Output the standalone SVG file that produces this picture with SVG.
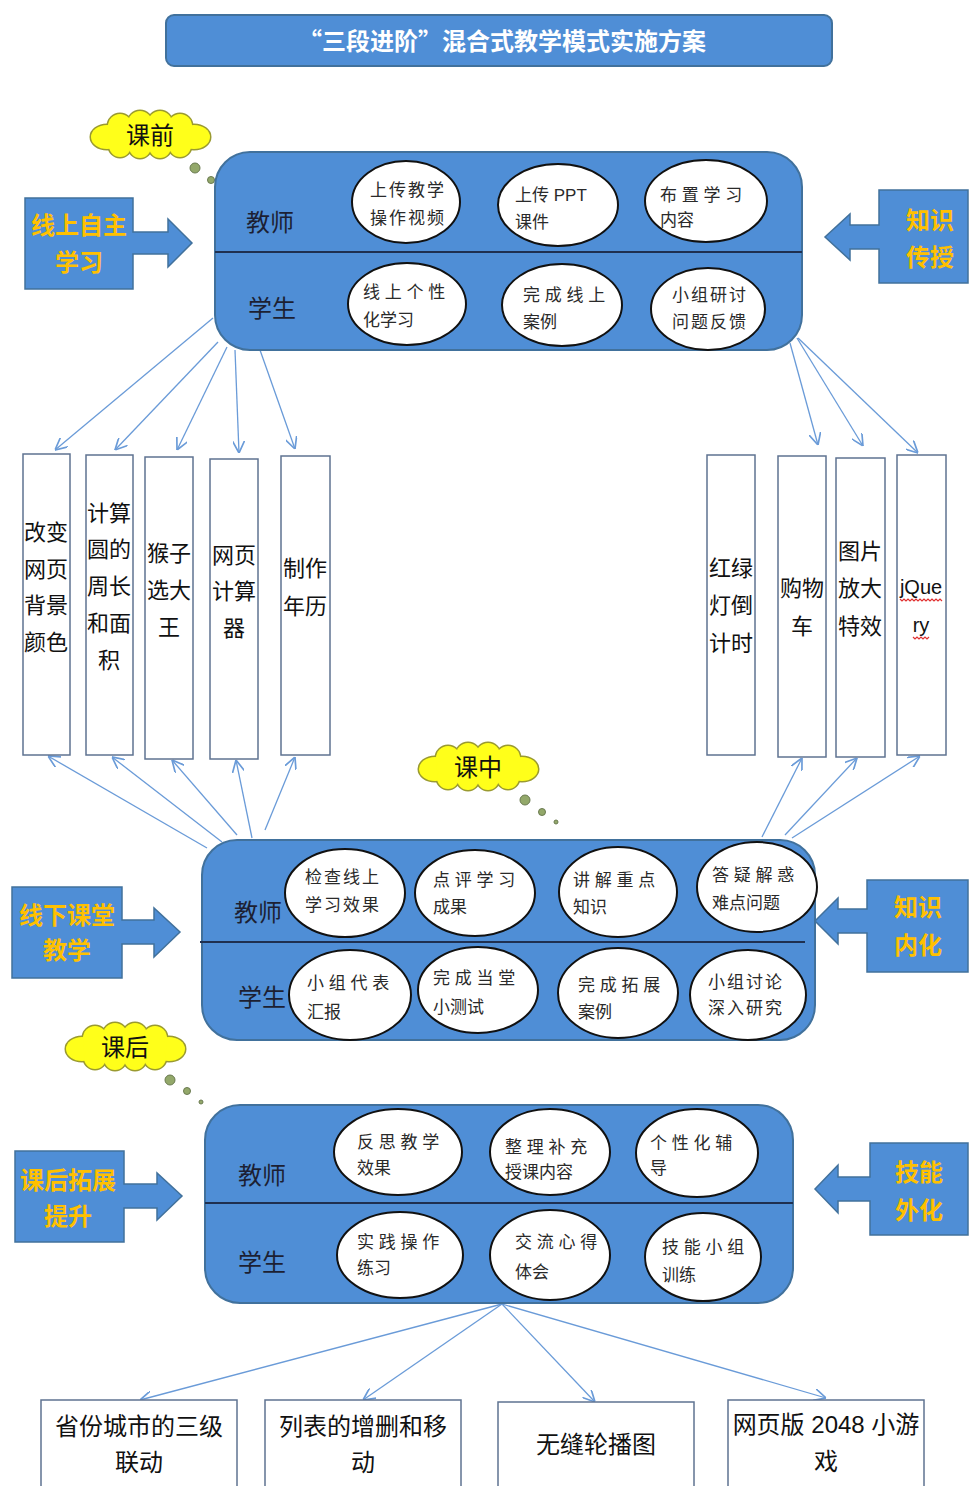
<svg xmlns="http://www.w3.org/2000/svg" xmlns:xlink="http://www.w3.org/1999/xlink" width="969" height="1486" viewBox="0 0 969 1486">
<style>
text{font-family:"Liberation Sans","Noto Sans CJK SC",sans-serif;}
.panel{fill:#4f8ed6;stroke:#41719c;stroke-width:2;}
.div{stroke:#1f3050;stroke-width:2;}
.call{fill:#4f8ed6;stroke:#41719c;stroke-width:1.5;}
.ct{fill:#ffc000;font-size:24px;font-weight:bold;text-anchor:middle;}
.role{fill:#1c1f33;font-size:24px;text-anchor:middle;}
.ell{fill:#ffffff;stroke:#111;stroke-width:2;}
.et{fill:#2a2a2a;font-size:17px;letter-spacing:2px;}
.sp{letter-spacing:0px;}
.vb{fill:#ffffff;stroke:#5f7391;stroke-width:1.5;}
.vt{fill:#111;font-size:22px;text-anchor:middle;}
.bt{fill:#111;font-size:24px;text-anchor:middle;}
.cs{fill:#ffff1a;stroke:#9a9a30;stroke-width:3;}
.cf{fill:#ffff1a;stroke:none;}
.clt{fill:#111;font-size:24px;text-anchor:middle;}
.dot{fill:#93a86a;stroke:#6a7a50;stroke-width:1;}
.con{stroke:#6a9bd8;stroke-width:1.3;fill:none;marker-end:url(#ah);}
.wavy{fill:none;stroke:#e03030;stroke-width:1.2;}
</style>
<defs>
<marker id="ah" viewBox="0 0 10 10" refX="10" refY="5" markerWidth="12" markerHeight="12" markerUnits="userSpaceOnUse" orient="auto">
<path d="M0,0 L10,5 L0,10" fill="none" stroke="#6a9bd8" stroke-width="1.4"/>
</marker>
<g id="cloudBase">
<ellipse cx="-43" cy="2" rx="16" ry="12"/>
<circle cx="-30" cy="-9" r="12"/>
<circle cx="-10" cy="-12" r="12"/>
<circle cx="10" cy="-12" r="12"/>
<circle cx="30" cy="-9" r="12"/>
<ellipse cx="44" cy="2" rx="16" ry="12"/>
<circle cx="30" cy="11" r="11"/>
<circle cx="10" cy="12" r="11"/>
<circle cx="-10" cy="12" r="11"/>
<circle cx="-30" cy="11" r="11"/>
<ellipse cx="0" cy="0" rx="42" ry="14"/>
</g>
<g id="cloud">
<use href="#cloudBase" class="cs"/>
<use href="#cloudBase" class="cf"/>
</g>
</defs>

<rect width="969" height="1486" fill="#ffffff"/>

<!-- Title -->
<g id="title">
<rect x="166" y="15" width="666" height="51" rx="8" fill="#4f8ed6" stroke="#41719c" stroke-width="2"/>
<text x="502" y="50" fill="#ffffff" font-size="24" font-weight="bold" text-anchor="middle" style="font-family:'Noto Sans CJK SC','Liberation Sans',sans-serif">“三段进阶”混合式教学模式实施方案</text>
</g>

<!-- Connectors -->
<g id="connectors">
<line class="con" x1="213" y1="318" x2="55" y2="450"/>
<line class="con" x1="218" y1="342" x2="115" y2="450"/>
<line class="con" x1="227" y1="347" x2="177" y2="450"/>
<line class="con" x1="235" y1="350" x2="239" y2="453"/>
<line class="con" x1="260" y1="350" x2="295" y2="449"/>
<line class="con" x1="790" y1="343" x2="818" y2="445"/>
<line class="con" x1="797" y1="338" x2="863" y2="446"/>
<line class="con" x1="798" y1="338" x2="918" y2="453"/>
<line class="con" x1="207" y1="848" x2="48" y2="756"/>
<line class="con" x1="222" y1="842" x2="112" y2="757"/>
<line class="con" x1="237" y1="835" x2="172" y2="760"/>
<line class="con" x1="252" y1="838" x2="236" y2="760"/>
<line class="con" x1="265" y1="830" x2="295" y2="757"/>
<line class="con" x1="762" y1="837" x2="802" y2="758"/>
<line class="con" x1="785" y1="835" x2="857" y2="758"/>
<line class="con" x1="792" y1="838" x2="920" y2="756"/>
<line class="con" x1="502" y1="1304" x2="140" y2="1400"/>
<line class="con" x1="502" y1="1304" x2="363" y2="1400"/>
<line class="con" x1="502" y1="1304" x2="595" y2="1402"/>
<line class="con" x1="502" y1="1304" x2="826" y2="1398"/>
</g>

<!-- Clouds -->
<g id="cloud-pre">
<use href="#cloud" x="150" y="135"/>
<text class="clt" x="150" y="144">课前</text>
<circle class="dot" cx="195" cy="168" r="5"/>
<circle class="dot" cx="211" cy="180" r="3.5"/>
</g>
<g id="cloud-mid">
<use href="#cloud" x="478" y="767"/>
<text class="clt" x="478" y="776">课中</text>
<circle class="dot" cx="525" cy="800" r="5"/>
<circle class="dot" cx="542" cy="812" r="3.5"/>
<circle class="dot" cx="556" cy="822" r="2"/>
</g>
<g id="cloud-post">
<use href="#cloud" x="125" y="1047"/>
<text class="clt" x="125" y="1056">课后</text>
<circle class="dot" cx="170" cy="1080" r="5"/>
<circle class="dot" cx="187" cy="1091" r="3.5"/>
<circle class="dot" cx="201" cy="1102" r="2"/>
</g>

<!-- Callout arrows -->
<g id="callout-online">
<path class="call" d="M25,198 H133 V232 H168 V219 L192,243 L168,267 V254 H133 V289 H25 Z"/>
<text class="ct" x="79" y="234">线上自主</text>
<text class="ct" x="79" y="271">学习</text>
</g>
<g id="callout-transfer">
<path class="call" d="M968,190 H879 V225 H850 V214 L825,237 L850,260 V249 H879 V283 H968 Z"/>
<text class="ct" x="930" y="229">知识</text>
<text class="ct" x="930" y="266">传授</text>
</g>
<g id="callout-offline">
<path class="call" d="M12,887 H122 V920 H154 V908 L180,932 L154,957 V944 H122 V978 H12 Z"/>
<text class="ct" x="67" y="924">线下课堂</text>
<text class="ct" x="67" y="959">教学</text>
</g>
<g id="callout-internal">
<path class="call" d="M968,880 H867 V909 H838 V898 L815,921 L838,944 V933 H867 V972 H968 Z"/>
<text class="ct" x="918" y="916">知识</text>
<text class="ct" x="918" y="954">内化</text>
</g>
<g id="callout-extend">
<path class="call" d="M15,1151 H124 V1184 H157 V1173 L182,1196 L157,1220 V1208 H124 V1242 H15 Z"/>
<text class="ct" x="68" y="1189">课后拓展</text>
<text class="ct" x="68" y="1225">提升</text>
</g>
<g id="callout-skill">
<path class="call" d="M968,1143 H870 V1177 H838 V1165 L815,1189 L838,1213 V1201 H870 V1235 H968 Z"/>
<text class="ct" x="919" y="1181">技能</text>
<text class="ct" x="919" y="1219">外化</text>
</g>

<!-- Top panel -->
<g id="panel-pre">
<rect class="panel" x="215" y="152" width="587" height="198" rx="35"/>
<line class="div" x1="215" y1="252" x2="802" y2="252"/>
<text class="role" x="270" y="231">教师</text>
<text class="role" x="272" y="317">学生</text>
</g>
<g id="t1"><ellipse class="ell" cx="406" cy="202" rx="54" ry="41"/><text class="et"><tspan x="370" y="196">上传教学</tspan><tspan x="370" y="224">操作视频</tspan></text></g>
<g id="t2"><ellipse class="ell" cx="558" cy="205" rx="60" ry="41"/><text class="et sp"><tspan x="515" y="201">上传 PPT</tspan><tspan x="515" y="228">课件</tspan></text></g>
<g id="t3"><ellipse class="ell" cx="706" cy="201" rx="61" ry="41"/><text class="et sp"><tspan x="660" y="201">布 置 学 习</tspan><tspan x="660" y="226">内容</tspan></text></g>
<g id="t4"><ellipse class="ell" cx="407" cy="304" rx="59" ry="41"/><text class="et sp"><tspan x="363" y="298">线 上 个 性</tspan><tspan x="363" y="326">化学习</tspan></text></g>
<g id="t5"><ellipse class="ell" cx="562" cy="305" rx="60" ry="41"/><text class="et sp"><tspan x="523" y="301">完 成 线 上</tspan><tspan x="523" y="328">案例</tspan></text></g>
<g id="t6"><ellipse class="ell" cx="708" cy="309" rx="57" ry="41"/><text class="et"><tspan x="672" y="301">小组研讨</tspan><tspan x="672" y="328">问题反馈</tspan></text></g>

<!-- Middle panel -->
<g id="panel-mid">
<rect class="panel" x="202" y="840" width="613" height="200" rx="35"/>
<line class="div" x1="200" y1="942" x2="805" y2="942"/>
<text class="role" x="258" y="921">教师</text>
<text class="role" x="262" y="1006">学生</text>
</g>
<g id="m1"><ellipse class="ell" cx="345" cy="893" rx="60" ry="44"/><text class="et"><tspan x="305" y="883">检查线上</tspan><tspan x="305" y="911">学习效果</tspan></text></g>
<g id="m2"><ellipse class="ell" cx="475" cy="893" rx="60" ry="43"/><text class="et sp"><tspan x="433" y="886">点 评 学 习</tspan><tspan x="433" y="913">成果</tspan></text></g>
<g id="m3"><ellipse class="ell" cx="618" cy="892" rx="59" ry="45"/><text class="et sp"><tspan x="573" y="886">讲 解 重 点</tspan><tspan x="573" y="913">知识</tspan></text></g>
<g id="m4"><ellipse class="ell" cx="757" cy="887" rx="60" ry="45"/><text class="et sp"><tspan x="712" y="881">答 疑 解 惑</tspan><tspan x="712" y="909">难点问题</tspan></text></g>
<g id="m5"><ellipse class="ell" cx="350" cy="995" rx="61" ry="45"/><text class="et sp"><tspan x="307" y="989">小 组 代 表</tspan><tspan x="307" y="1018">汇报</tspan></text></g>
<g id="m6"><ellipse class="ell" cx="478" cy="990" rx="60" ry="43"/><text class="et sp"><tspan x="433" y="984">完 成 当 堂</tspan><tspan x="433" y="1013">小测试</tspan></text></g>
<g id="m7"><ellipse class="ell" cx="618" cy="993" rx="60" ry="45"/><text class="et sp"><tspan x="578" y="991">完 成 拓 展</tspan><tspan x="578" y="1018">案例</tspan></text></g>
<g id="m8"><ellipse class="ell" cx="748" cy="995" rx="58" ry="45"/><text class="et"><tspan x="708" y="988">小组讨论</tspan><tspan x="708" y="1014">深入研究</tspan></text></g>

<!-- Bottom panel -->
<g id="panel-post">
<rect class="panel" x="205" y="1105" width="588" height="198" rx="35"/>
<line class="div" x1="205" y1="1203" x2="793" y2="1203"/>
<text class="role" x="262" y="1184">教师</text>
<text class="role" x="262" y="1271">学生</text>
</g>
<g id="b1"><ellipse class="ell" cx="398" cy="1152" rx="64" ry="43"/><text class="et sp"><tspan x="357" y="1148">反 思 教 学</tspan><tspan x="357" y="1174">效果</tspan></text></g>
<g id="b2"><ellipse class="ell" cx="550" cy="1152" rx="60" ry="43"/><text class="et sp"><tspan x="505" y="1153">整 理 补 充</tspan><tspan x="505" y="1178">授课内容</tspan></text></g>
<g id="b3"><ellipse class="ell" cx="697" cy="1153" rx="61" ry="44"/><text class="et sp"><tspan x="650" y="1149">个 性 化 辅</tspan><tspan x="650" y="1174">导</tspan></text></g>
<g id="b4"><ellipse class="ell" cx="400" cy="1255" rx="63" ry="43"/><text class="et sp"><tspan x="357" y="1248">实 践 操 作</tspan><tspan x="357" y="1274">练习</tspan></text></g>
<g id="b5"><ellipse class="ell" cx="550" cy="1255" rx="60" ry="45"/><text class="et sp"><tspan x="515" y="1248">交 流 心 得</tspan><tspan x="515" y="1278">体会</tspan></text></g>
<g id="b6"><ellipse class="ell" cx="703" cy="1257" rx="58" ry="44"/><text class="et sp"><tspan x="662" y="1253">技 能 小 组</tspan><tspan x="662" y="1281">训练</tspan></text></g>

<!-- Left vertical boxes -->
<g id="v1"><rect class="vb" x="23" y="454" width="47" height="301"/><text class="vt"><tspan x="46" y="540">改变</tspan><tspan x="46" y="577">网页</tspan><tspan x="46" y="613">背景</tspan><tspan x="46" y="650">颜色</tspan></text></g>
<g id="v2"><rect class="vb" x="86" y="455" width="47" height="300"/><text class="vt"><tspan x="109" y="521">计算</tspan><tspan x="109" y="557">圆的</tspan><tspan x="109" y="594">周长</tspan><tspan x="109" y="631">和面</tspan><tspan x="109" y="668">积</tspan></text></g>
<g id="v3"><rect class="vb" x="145" y="457" width="48" height="302"/><text class="vt"><tspan x="169" y="561">猴子</tspan><tspan x="169" y="598">选大</tspan><tspan x="169" y="635">王</tspan></text></g>
<g id="v4"><rect class="vb" x="210" y="459" width="48" height="300"/><text class="vt"><tspan x="234" y="563">网页</tspan><tspan x="234" y="599">计算</tspan><tspan x="234" y="636">器</tspan></text></g>
<g id="v5"><rect class="vb" x="281" y="456" width="49" height="299"/><text class="vt"><tspan x="305" y="576">制作</tspan><tspan x="305" y="614">年历</tspan></text></g>

<!-- Right vertical boxes -->
<g id="v6"><rect class="vb" x="707" y="455" width="48" height="300"/><text class="vt"><tspan x="731" y="576">红绿</tspan><tspan x="731" y="613">灯倒</tspan><tspan x="731" y="651">计时</tspan></text></g>
<g id="v7"><rect class="vb" x="778" y="456" width="48" height="301"/><text class="vt"><tspan x="802" y="596">购物</tspan><tspan x="802" y="634">车</tspan></text></g>
<g id="v8"><rect class="vb" x="836" y="458" width="49" height="299"/><text class="vt"><tspan x="860" y="559">图片</tspan><tspan x="860" y="596">放大</tspan><tspan x="860" y="634">特效</tspan></text></g>
<g id="v9"><rect class="vb" x="897" y="455" width="49" height="300"/><text class="vt" style="font-size:20px"><tspan x="921" y="594">jQue</tspan><tspan x="921" y="632">ry</tspan></text>
<polyline class="wavy" points="900,599 902,601 904,599 906,601 908,599 910,601 912,599 914,601 916,599 918,601 920,599 922,601 924,599 926,601 928,599 930,601 932,599 934,601 936,599 938,601 940,599 942,601"/>
<polyline class="wavy" points="913,637 915,639 917,637 919,639 921,637 923,639 925,637 927,639 929,637"/>
</g>

<!-- Bottom boxes -->
<g id="w1"><rect class="vb" x="41" y="1400" width="196" height="90"/><text class="bt"><tspan x="139" y="1435">省份城市的三级</tspan><tspan x="139" y="1471">联动</tspan></text></g>
<g id="w2"><rect class="vb" x="265" y="1400" width="196" height="90"/><text class="bt"><tspan x="363" y="1435">列表的增删和移</tspan><tspan x="363" y="1471">动</tspan></text></g>
<g id="w3"><rect class="vb" x="498" y="1402" width="196" height="90"/><text class="bt"><tspan x="596" y="1453">无缝轮播图</tspan></text></g>
<g id="w4"><rect class="vb" x="728" y="1400" width="196" height="90"/><text class="bt"><tspan x="826" y="1433">网页版 2048 小游</tspan><tspan x="826" y="1470">戏</tspan></text></g>
</svg>
